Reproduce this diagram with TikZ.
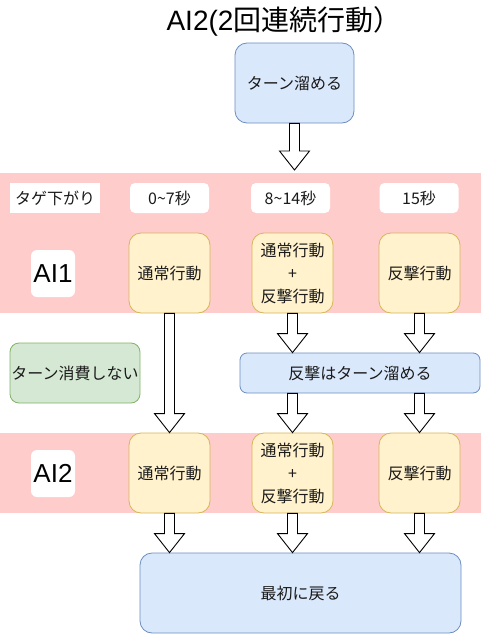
\documentclass[tikz,border=0pt]{standalone}
\usepackage{fontspec}
\setmainfont{Noto Sans CJK JP}
\newfontfamily\latinfont{Liberation Sans}
\usetikzlibrary{positioning,calc}
\definecolor{bandpink}{RGB}{255,204,204}
\definecolor{bluefill}{HTML}{DAE8FC}
\definecolor{blueline}{HTML}{6C8EBF}
\definecolor{yellowfill}{HTML}{FFF2CC}
\definecolor{yellowline}{HTML}{D6B656}
\definecolor{greenfill}{HTML}{D5E8D4}
\definecolor{greenline}{HTML}{82B366}
\definecolor{inkgray}{RGB}{26,26,26}

\tikzset{
  boxtext/.style={text=inkgray,font=\fontsize{16}{23}\selectfont,align=center,inner sep=0pt},
  band/.style={fill=bandpink,minimum width=481pt,inner sep=0pt},
  bluebox/.style={boxtext,draw=blueline,fill=bluefill,line width=0.8pt,rounded corners=12pt},
  actbox/.style={boxtext,draw=yellowline,fill=yellowfill,line width=0.8pt,rounded corners=12pt,
    minimum width=81pt,minimum height=80pt},
  timebox/.style={boxtext,fill=white,rounded corners=5pt,minimum width=79pt,minimum height=30pt},
  aibox/.style={text=black,font=\latinfont\fontsize{26}{26}\selectfont,fill=white,rounded corners=6pt,
    minimum width=44pt,minimum height=47pt,inner sep=0pt},
  fatline/.style={draw=black,fill=white,line width=0.9pt,line join=miter}
}

% hollow block arrow, straight down from #1 to the height of #2
\newcommand{\fatarrow}[2]{%
  \draw[fatline] let \p1=(#1), \p2=(#2) in
    (\x1-5pt,\y1) -- (\x1-5pt,\y2+19pt) -- (\x1-15pt,\y2+19pt) -- (\x1,\y2)
    -- (\x1+15pt,\y2+19pt) -- (\x1+5pt,\y2+19pt) -- (\x1+5pt,\y1) -- cycle;}

\begin{document}
\begin{tikzpicture}[x=1pt,y=-1pt]
  \useasboundingbox (0,0) rectangle (481,634);

  % bands first
  \node[band,minimum height=140pt] (band1) at (240.5,243) {};
  \node[band,minimum height=80pt] (band2) at (240.5,473) {};

  \node[text=black,font=\fontsize{28}{28}\selectfont,inner sep=0pt] (title) at (284,21)
    {{\latinfont AI2(2}回連続行動）};

  \node[bluebox,minimum width=119pt,minimum height=80pt] (charge) at (294.5,83) {ターン溜める};
  \coordinate (chargeend) at (294.5,170);

  % header row
  \node[boxtext,fill=white,minimum width=90pt,minimum height=30pt] (tag) at (55,198) {タゲ下がり};
  \node[timebox] (time1) at (169.5,198) {0\char"7E 7秒};
  \node[timebox] (time2) at (290.5,198) {8\char"7E 14秒};
  \node[timebox] (time3) at (419,198) {15秒};

  % first action
  \node[aibox] (ai1) at (53,273.5) {AI1};
  \node[actbox] (norm1) at (169.5,273) {通常行動};
  \node[actbox] (mix1) at (292.5,273) {通常行動\\+\\反撃行動};
  \node[actbox] (back1) at (419.5,273) {反撃行動};

  \node[boxtext,draw=greenline,fill=greenfill,line width=0.8pt,rounded corners=9pt,
    minimum width=130pt,minimum height=60pt] (nocost) at (75,373) {ターン消費しない};
  \node[bluebox,rounded corners=7pt,minimum width=240pt,minimum height=40pt] (counter) at (360,373)
    {反撃はターン溜める};

  % second action
  \node[aibox] (ai2) at (53,473.5) {AI2};
  \node[actbox] (norm2) at (169.5,473) {通常行動};
  \node[actbox] (mix2) at (292.5,473) {通常行動\\+\\反撃行動};
  \node[actbox] (back2) at (419.5,473) {反撃行動};

  \node[bluebox,minimum width=321pt,minimum height=80pt] (restart) at (300.5,593) {最初に戻る};

  % arrows
  \fatarrow{charge.south}{chargeend}
  \fatarrow{norm1.south}{norm2.north}
  \fatarrow{mix1.south}{mix1.south |- counter.north}
  \fatarrow{back1.south}{back1.south |- counter.north}
  \fatarrow{mix2.north |- counter.south}{mix2.north}
  \fatarrow{back2.north |- counter.south}{back2.north}
  \fatarrow{norm2.south}{norm2.south |- restart.north}
  \fatarrow{mix2.south}{mix2.south |- restart.north}
  \fatarrow{back2.south}{back2.south |- restart.north}
\end{tikzpicture}
\end{document}
